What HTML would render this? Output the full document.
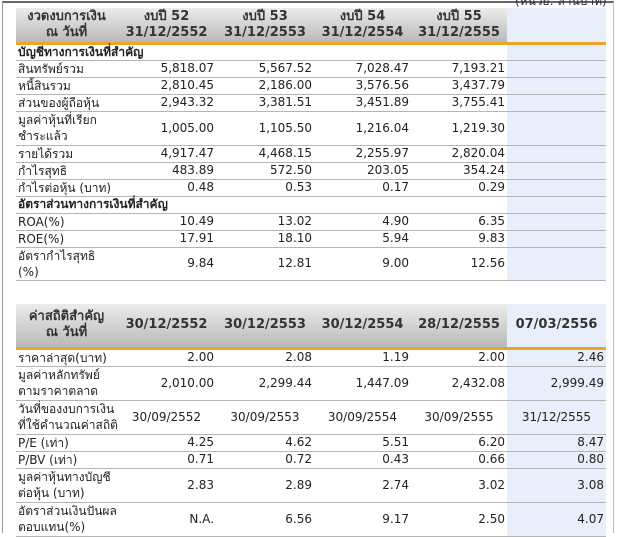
<!DOCTYPE html>
<html><head><meta charset="utf-8"><style>
body{margin:0;width:619px;height:519px;overflow:hidden;background:#fff;font-family:"DejaVu Sans","Liberation Sans",sans-serif;font-size:12px;color:#222;position:relative}
.frame{position:absolute;left:2px;top:1px;width:610px;height:530px;border-left:1px solid #999;border-top:2px solid #666;border-right:1px solid #bbb}
table{position:absolute;left:16px;border-collapse:collapse;table-layout:fixed;width:590px}
td{padding:0 2px;border-bottom:1px solid #b5b5b5;text-align:right;vertical-align:middle;line-height:15px;white-space:nowrap}
td.l{text-align:left;font-size:12px;line-height:16px;padding-left:2px;padding-right:0}
th{font-weight:bold;font-size:13px;color:#333;background:linear-gradient(#ececec,#b9b9b9);line-height:16px;padding:0;border-bottom:3px solid #eaa52a;white-space:nowrap}
th.t{font-size:13px}
th.b{background:#e9eefb}
.sec td{font-weight:bold;text-align:left;font-size:12px}
td.bl{background:#e9eefb}
.unit{position:absolute;left:515px;top:-8px;font-size:12px;color:#333}
</style></head><body>
<div class="frame"></div>
<div class="unit">(หน่วย: ล้านบาท)</div>
<table style="top:8px">
<colgroup><col style="width:101px"><col style="width:99px"><col style="width:98px"><col style="width:97px"><col style="width:96px"><col style="width:99px"></colgroup>
<tr style="height:35px"><th class="t">งวดงบการเงิน<br>ณ วันที่</th><th>งบปี 52<br>31/12/2552</th><th>งบปี 53<br>31/12/2553</th><th>งบปี 54<br>31/12/2554</th><th>งบปี 55<br>31/12/2555</th><th class="b"></th></tr>
<tr class="sec" style="height:17px"><td colspan="5">บัญชีทางการเงินที่สำคัญ</td><td class="bl"></td></tr>
<tr style="height:17px"><td class="l">สินทรัพย์รวม</td><td>5,818.07</td><td>5,567.52</td><td>7,028.47</td><td>7,193.21</td><td class="bl"></td></tr>
<tr style="height:17px"><td class="l">หนี้สินรวม</td><td>2,810.45</td><td>2,186.00</td><td>3,576.56</td><td>3,437.79</td><td class="bl"></td></tr>
<tr style="height:17px"><td class="l">ส่วนของผู้ถือหุ้น</td><td>2,943.32</td><td>3,381.51</td><td>3,451.89</td><td>3,755.41</td><td class="bl"></td></tr>
<tr style="height:34px"><td class="l">มูลค่าหุ้นที่เรียก<br>ชำระแล้ว</td><td>1,005.00</td><td>1,105.50</td><td>1,216.04</td><td>1,219.30</td><td class="bl"></td></tr>
<tr style="height:17px"><td class="l">รายได้รวม</td><td>4,917.47</td><td>4,468.15</td><td>2,255.97</td><td>2,820.04</td><td class="bl"></td></tr>
<tr style="height:16px"><td class="l">กำไรสุทธิ</td><td>483.89</td><td>572.50</td><td>203.05</td><td>354.24</td><td class="bl"></td></tr>
<tr style="height:17px"><td class="l">กำไรต่อหุ้น (บาท)</td><td>0.48</td><td>0.53</td><td>0.17</td><td>0.29</td><td class="bl"></td></tr>
<tr class="sec" style="height:17px"><td colspan="5">อัตราส่วนทางการเงินที่สำคัญ</td><td class="bl"></td></tr>
<tr style="height:17px"><td class="l">ROA(%)</td><td>10.49</td><td>13.02</td><td>4.90</td><td>6.35</td><td class="bl"></td></tr>
<tr style="height:17px"><td class="l">ROE(%)</td><td>17.91</td><td>18.10</td><td>5.94</td><td>9.83</td><td class="bl"></td></tr>
<tr style="height:33px"><td class="l">อัตรากำไรสุทธิ<br>(%)</td><td>9.84</td><td>12.81</td><td>9.00</td><td>12.56</td><td class="bl"></td></tr>
</table>
<table style="top:304px">
<colgroup><col style="width:101px"><col style="width:99px"><col style="width:98px"><col style="width:97px"><col style="width:96px"><col style="width:99px"></colgroup>
<tr style="height:44px"><th class="t">ค่าสถิติสำคัญ<br>ณ วันที่</th><th>30/12/2552</th><th>30/12/2553</th><th>30/12/2554</th><th>28/12/2555</th><th class="b">07/03/2556</th></tr>
<tr style="height:17px"><td class="l">ราคาล่าสุด(บาท)</td><td>2.00</td><td>2.08</td><td>1.19</td><td>2.00</td><td class="bl">2.46</td></tr>
<tr style="height:34px"><td class="l">มูลค่าหลักทรัพย์<br>ตามราคาตลาด</td><td>2,010.00</td><td>2,299.44</td><td>1,447.09</td><td>2,432.08</td><td class="bl">2,999.49</td></tr>
<tr style="height:34px"><td class="l">วันที่ของงบการเงิน<br>ที่ใช้คำนวณค่าสถิติ</td><td style="text-align:center">30/09/2552</td><td style="text-align:center">30/09/2553</td><td style="text-align:center">30/09/2554</td><td style="text-align:center">30/09/2555</td><td class="bl" style="text-align:center">31/12/2555</td></tr>
<tr style="height:17px"><td class="l">P/E (เท่า)</td><td>4.25</td><td>4.62</td><td>5.51</td><td>6.20</td><td class="bl">8.47</td></tr>
<tr style="height:17px"><td class="l">P/BV (เท่า)</td><td>0.71</td><td>0.72</td><td>0.43</td><td>0.66</td><td class="bl">0.80</td></tr>
<tr style="height:34px"><td class="l">มูลค่าหุ้นทางบัญชี<br>ต่อหุ้น (บาท)</td><td>2.83</td><td>2.89</td><td>2.74</td><td>3.02</td><td class="bl">3.08</td></tr>
<tr style="height:34px"><td class="l">อัตราส่วนเงินปันผล<br>ตอบแทน(%)</td><td>N.A.</td><td>6.56</td><td>9.17</td><td>2.50</td><td class="bl">4.07</td></tr>
</table>
</body></html>
